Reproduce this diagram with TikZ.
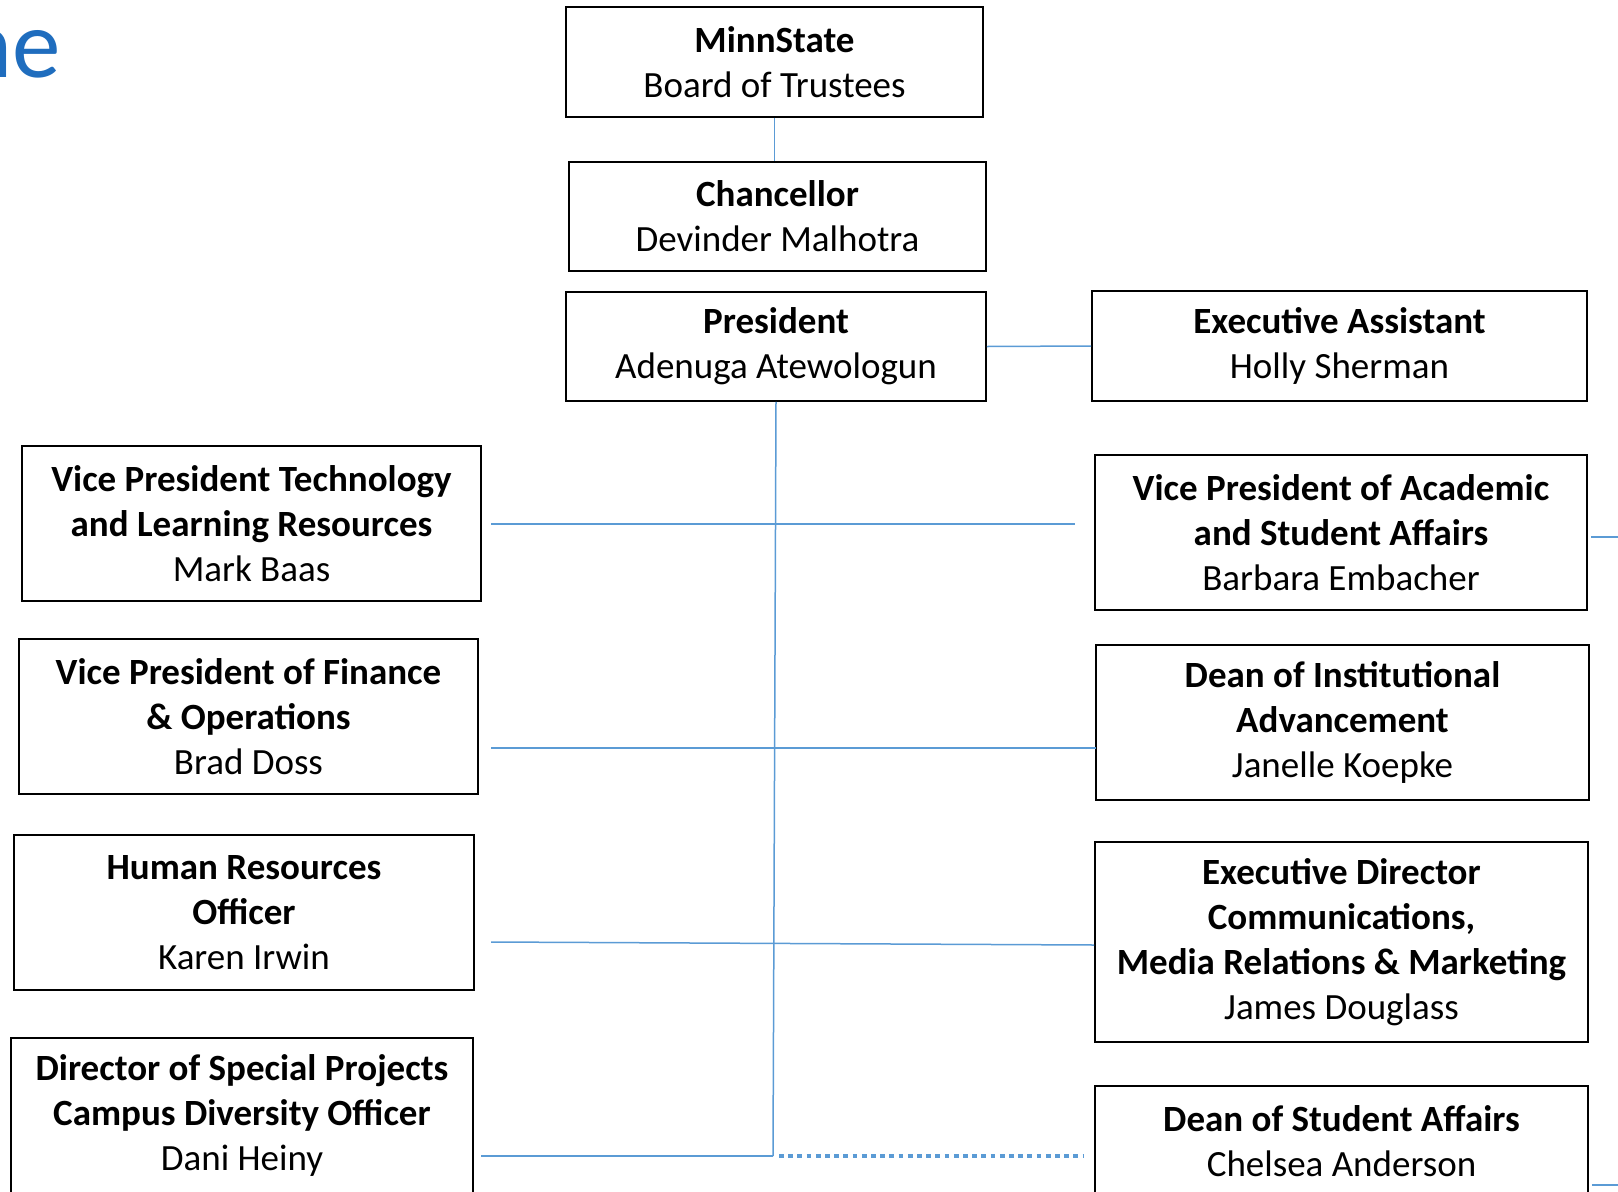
\documentclass[tikz,border=0pt]{standalone}
\usepackage{fontspec}
\setmainfont{Carlito}
\usepackage{tikz}
\definecolor{linkblue}{RGB}{91,155,213}
\definecolor{titleblue}{RGB}{31,109,190}
\tikzset{unit/.style={draw=black, line width=1.8pt, align=center, inner sep=0pt, font={\fontsize{37}{45}\selectfont}}}
\tikzset{link/.style={draw=linkblue, line width=1.5pt}}
\tikzset{dotlink/.style={draw=linkblue, line width=3.4pt, dash pattern=on 4.8pt off 4.4pt}}

\begin{document}
\begin{tikzpicture}[x=1pt, y=-1pt]
            \useasboundingbox (0,0) rectangle (1618,1192);
            \node[anchor=base east, inner sep=0pt, text=titleblue, font={\fontsize{97}{100}\selectfont}] (title) at (61,77) {ne};
            % top of the chart
            \node[unit, minimum width=417pt, minimum height=110pt] (board) at (774.5,62) {\textbf{MinnState}\\Board of Trustees};
            \node[unit, minimum width=417pt, minimum height=109pt] (chanc) at (777.5,216.5) {\textbf{Chancellor}\\Devinder Malhotra};
            \node[unit, minimum width=420pt, minimum height=109pt] (pres) at (776,346.5) {\textbf{President}\\Adenuga Atewologun};
            \node[unit, minimum width=495pt, minimum height=110pt] (assist) at (1339.5,346) {\textbf{Executive Assistant}\\Holly Sherman};
            % left column
            \node[unit, minimum width=459pt, minimum height=155pt] (vptech) at (251.5,523.5) {\textbf{Vice President Technology}\\\textbf{and Learning Resources}\\Mark Baas};
            \node[unit, minimum width=459pt, minimum height=155pt] (vpfin) at (248.5,716.5) {\textbf{Vice President of Finance}\\\textbf{\& Operations}\\Brad Doss};
            \node[unit, minimum width=460pt, minimum height=155pt] (hr) at (244,912.5) {\textbf{Human Resources}\\\textbf{Officer}\\Karen Irwin};
            \node[unit, minimum width=462pt, minimum height=155pt] (dirspec) at (242,1115.5) {\textbf{Director of Special Projects}\\\textbf{Campus Diversity Officer}\\Dani Heiny};
            % right column
            \node[unit, minimum width=492pt, minimum height=155pt] (vpacad) at (1341,532.5) {\textbf{Vice President of Academic}\\\textbf{and Student Affairs}\\Barbara Embacher};
            \node[unit, minimum width=493pt, minimum height=155pt] (deanadv) at (1342.5,722.5) {\textbf{Dean of Institutional}\\\textbf{Advancement}\\Janelle Koepke};
            \node[unit, minimum width=493pt, minimum height=200pt] (execdir) at (1341.5,942) {\textbf{Executive Director}\\\textbf{Communications,}\\\textbf{Media Relations \& Marketing}\\James Douglass};
            \node[unit, minimum width=493pt, minimum height=110pt] (deanstu) at (1341.5,1141) {\textbf{Dean of Student Affairs}\\Chelsea Anderson};
            % line ends
            \coordinate (techend) at (491,524);
            \coordinate (acadend) at (1075,524);
            \coordinate (finend) at (491,748);
            \coordinate (advend) at (1096,748);
            \coordinate (hrend) at (491,942);
            \coordinate (dirend) at (1094,945);
            \coordinate (specend) at (481,1156);
            \coordinate (trunkend) at (773,1156);
            \coordinate (stuend) at (1083,1156);
            \coordinate (acadout) at (1618,537);
            \coordinate (stuout) at (1618,1185);
            \draw[link] (board.south) -- (board.south |- chanc.north);
            \draw[link] (pres.east) -- (assist.west);
            \draw[link] (pres.south) -- (trunkend);
            \foreach \from/\to in {techend/acadend, finend/advend, hrend/dirend, specend/trunkend} {
                \draw[link] (\from) -- (\to);
            }
            \draw[dotlink] ([xshift=6pt]trunkend) -- (stuend);
            \draw[link] ([xshift=3pt]acadout -| vpacad.east) -- (acadout);
            \draw[link] ([xshift=3pt]stuout -| deanstu.east) -- (stuout);
        \end{tikzpicture}
\end{document}
